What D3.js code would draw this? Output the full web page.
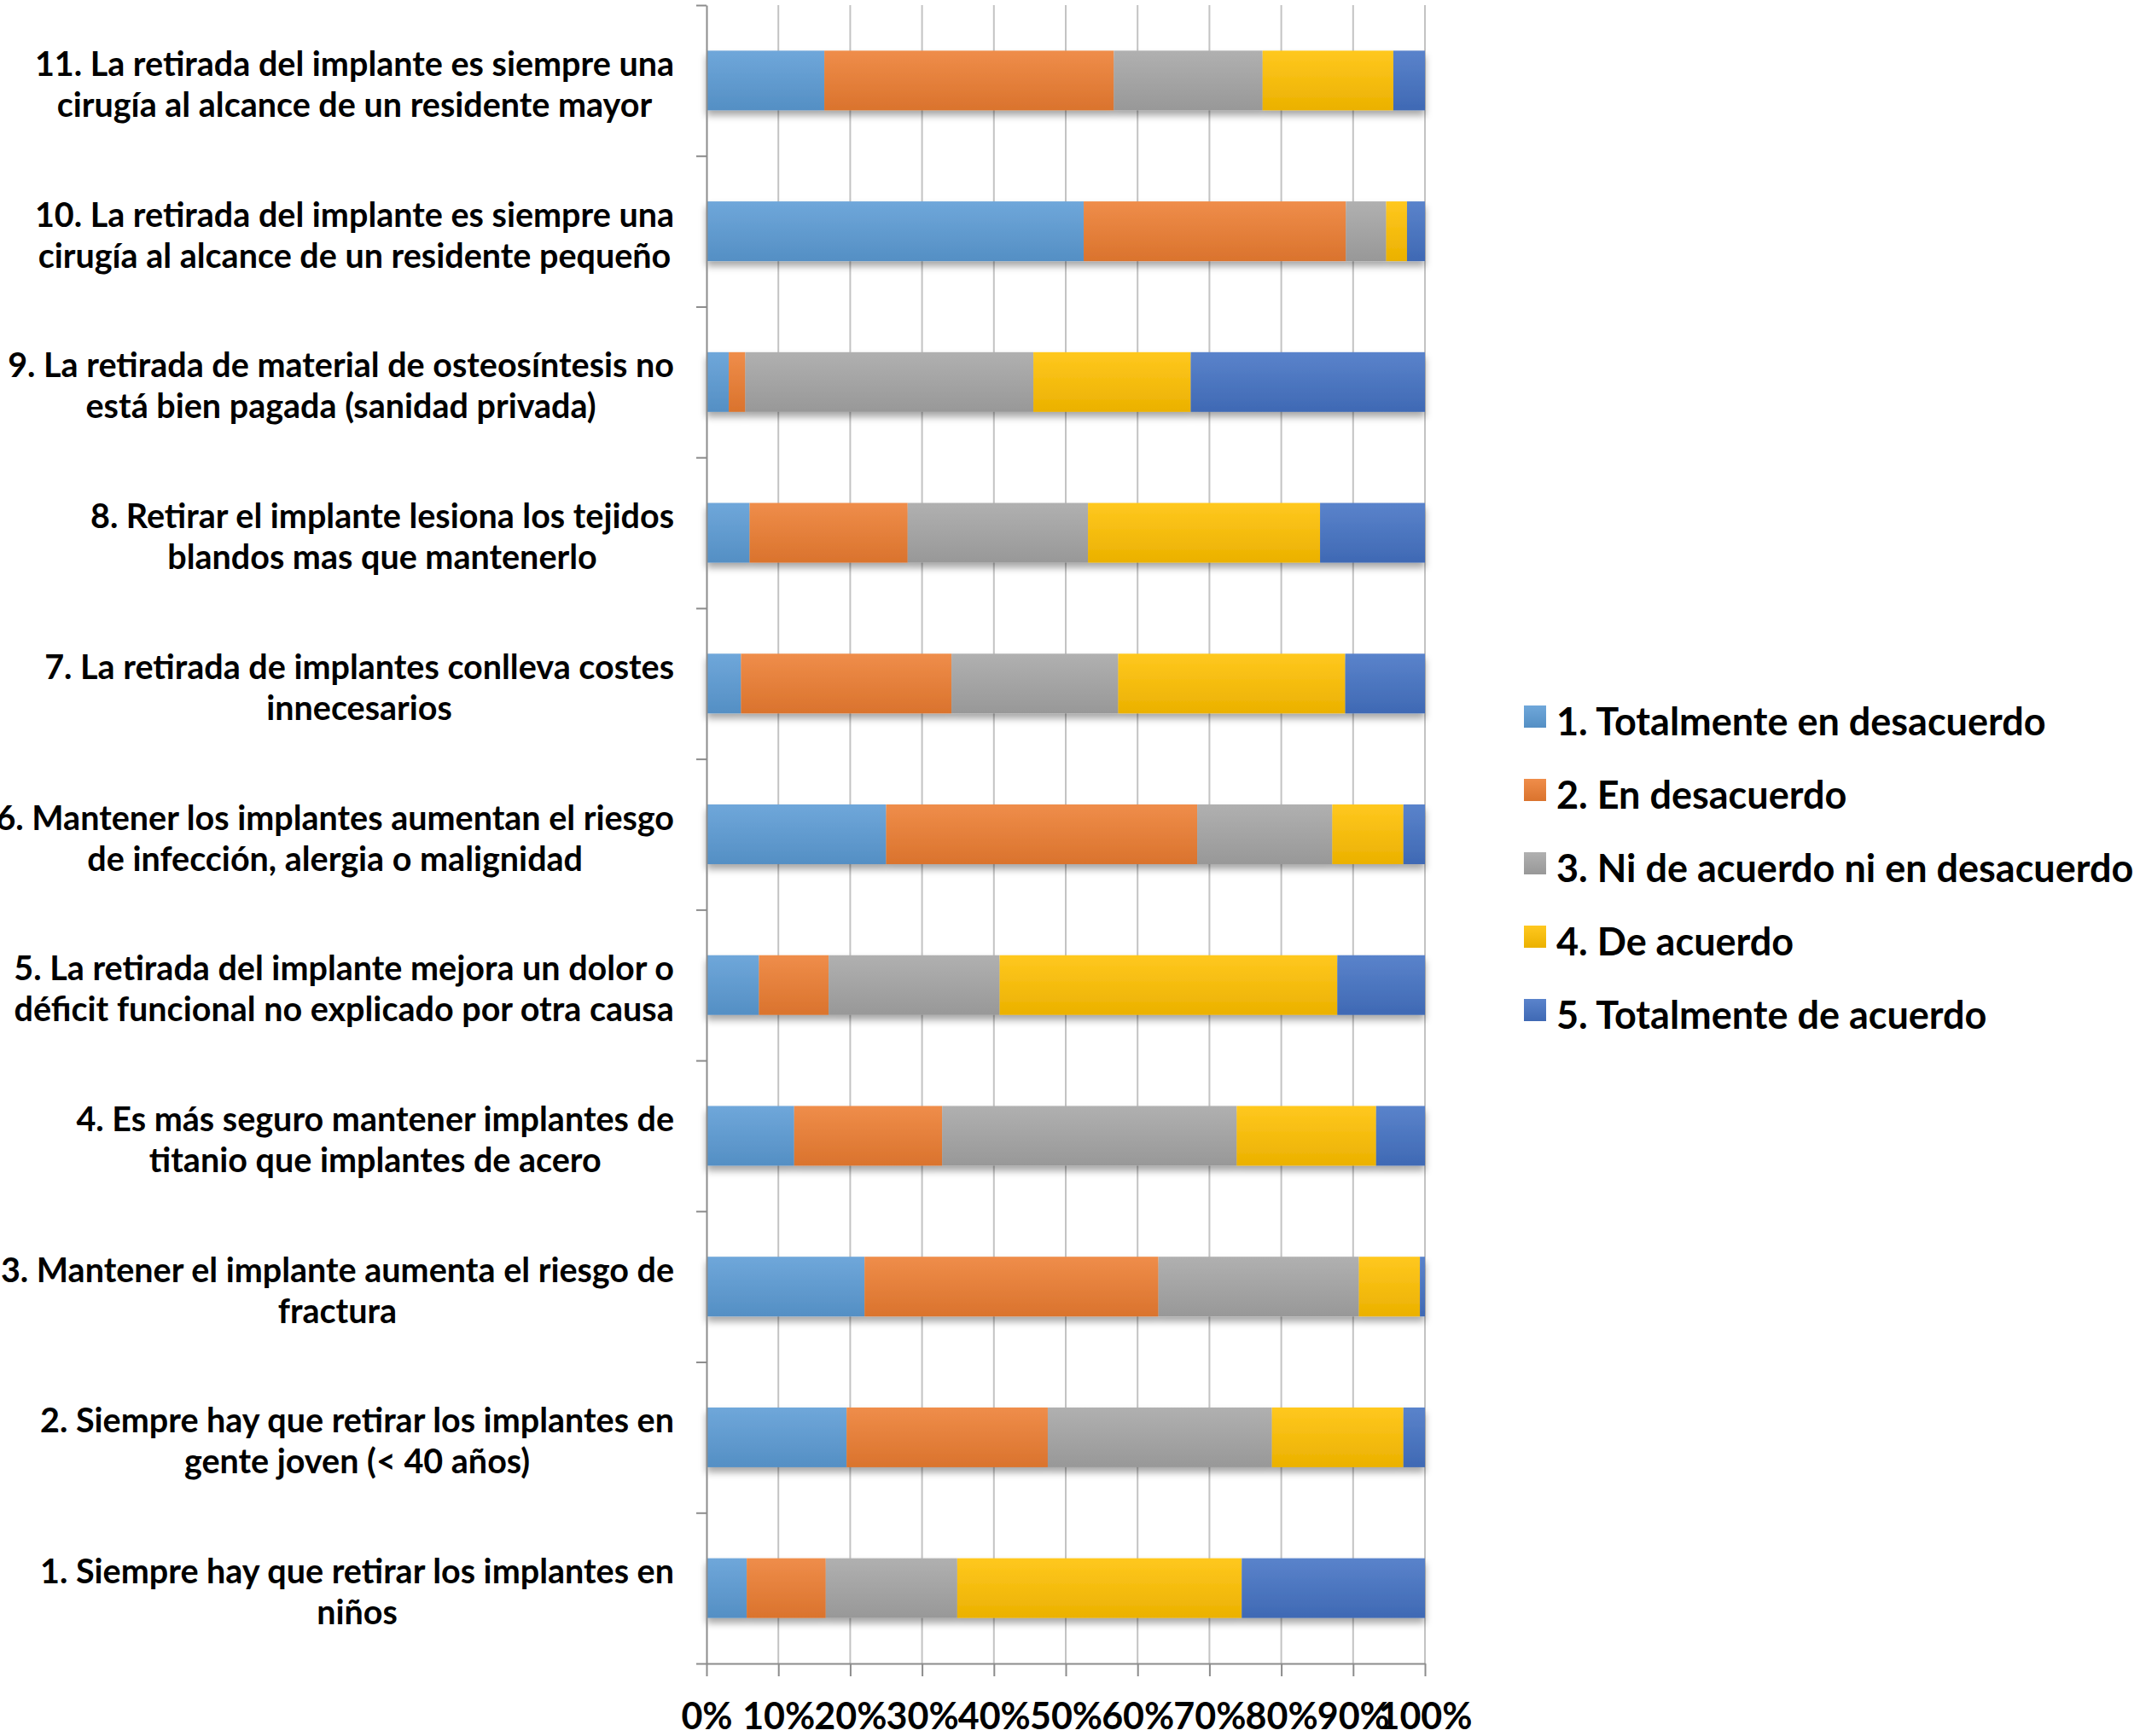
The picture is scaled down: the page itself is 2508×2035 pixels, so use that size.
<!DOCTYPE html>
<html>
<head>
<meta charset="utf-8">
<script src="https://cdn.jsdelivr.net/npm/d3@7"></script>
<style>
  body { margin: 0; background: #fff; }
  text { font-family: Lato, "Open Sans", sans-serif; font-weight: 700; fill: #000; }
</style>
</head>
<body>
<div id="chart"></div>
<script>
// questions, top to bottom as drawn
var questions = ['11', '10', '9', '8', '7', '6', '5', '4', '3', '2', '1'];
var questionLines = [
  ['11. La retirada del implante es siempre una', 'cirugía al alcance de un residente mayor'],
  ['10. La retirada del implante es siempre una', 'cirugía al alcance de un residente pequeño'],
  ['9. La retirada de material de osteosíntesis no', 'está bien pagada (sanidad privada)'],
  ['8. Retirar el implante lesiona los tejidos', 'blandos mas que mantenerlo'],
  ['7. La retirada de implantes conlleva costes', 'innecesarios'],
  ['6. Mantener los implantes aumentan el riesgo', 'de infección, alergia o malignidad'],
  ['5. La retirada del implante mejora un dolor o', 'déficit funcional no explicado por otra causa'],
  ['4. Es más seguro mantener implantes de', 'titanio que implantes de acero'],
  ['3. Mantener el implante aumenta el riesgo de', 'fractura'],
  ['2. Siempre hay que retirar los implantes en', 'gente joven (< 40 años)'],
  ['1. Siempre hay que retirar los implantes en', 'niños']
];

var seriesNames = ['1. Totalmente en desacuerdo', '2. En desacuerdo',
  '3. Ni de acuerdo ni en desacuerdo', '4. De acuerdo', '5. Totalmente de acuerdo'];

// percent per answer, same order as questions
var totalDesacuerdo = [16.4, 52.5, 3.1, 6.0, 4.8, 25.0, 7.3, 12.2, 22.0, 19.5, 5.6];
var enDesacuerdo    = [40.3, 36.5, 2.3, 22.0, 29.3, 43.3, 9.7, 20.6, 40.9, 28.0, 11.0];
var neutral         = [20.7, 5.6, 40.1, 25.1, 23.2, 18.8, 23.8, 41.0, 27.9, 31.2, 18.3];
var deAcuerdo       = [18.2, 2.9, 21.9, 32.3, 31.6, 9.9, 47.0, 19.4, 8.5, 18.3, 39.6];
var totalAcuerdo    = [4.4, 2.5, 32.6, 14.6, 11.1, 3.0, 12.2, 6.8, 0.7, 3.0, 25.5];

var xTicks = [0, 10, 20, 30, 40, 50, 60, 70, 80, 90, 100];
var colors = ['#5b9bd5', '#ed7d31', '#a5a5a5', '#ffc000', '#4472c4'];

var W = 2508, H = 2035;
var plotLeft = 828, plotRight = 1670, plotTop = 6, plotBottom = 1950;

var table = questions.map(function (q, i) {
  return { q: q, lines: questionLines[i],
    s0: totalDesacuerdo[i], s1: enDesacuerdo[i], s2: neutral[i], s3: deAcuerdo[i], s4: totalAcuerdo[i] };
});
var keys = ['s0', 's1', 's2', 's3', 's4'];
var stacked = d3.stack().keys(keys)(table);

var svg = d3.select('#chart').append('svg')
  .attr('width', W).attr('height', H);

var defs = svg.append('defs');
colors.forEach(function (c, i) {
  var g = defs.append('linearGradient').attr('id', 'grad' + i)
    .attr('x1', 0).attr('y1', 0).attr('x2', 0).attr('y2', 1);
  g.append('stop').attr('offset', '0%').attr('stop-color', d3.interpolateRgb(c, '#fff')(0.12));
  g.append('stop').attr('offset', '100%').attr('stop-color', d3.interpolateRgb(c, '#000')(0.08));
});
var shadow = defs.append('filter').attr('id', 'shadow')
  .attr('x', '-5%').attr('y', '-20%').attr('width', '110%').attr('height', '160%');
shadow.append('feDropShadow').attr('dx', 0).attr('dy', 6).attr('stdDeviation', 4)
  .attr('flood-color', '#000').attr('flood-opacity', 0.35);

var x = d3.scaleLinear().domain([0, 100]).range([plotLeft, plotRight]);
var y = d3.scaleBand().domain(questions).range([plotTop, plotBottom])
  .paddingInner(0.604).paddingOuter(0.302);
var yEdge = d3.scaleLinear().domain([0, questions.length]).range([plotTop, plotBottom]);

// gridlines
svg.append('g').selectAll('line').data(xTicks.slice(1)).join('line')
  .attr('x1', function (d) { return x(d); }).attr('x2', function (d) { return x(d); })
  .attr('y1', plotTop).attr('y2', plotBottom)
  .attr('stroke', '#c3c3c3').attr('stroke-width', 2);

// bars
svg.append('g').attr('filter', 'url(#shadow)')
  .selectAll('g').data(stacked).join('g')
  .attr('fill', function (d, i) { return 'url(#grad' + i + ')'; })
  .selectAll('rect').data(function (d) { return d; }).join('rect')
  .attr('x', function (d) { return x(d[0]); })
  .attr('width', function (d) { return x(d[1]) - x(d[0]); })
  .attr('y', function (d) { return y(d.data.q); })
  .attr('height', y.bandwidth());

// y axis with ticks between categories
var yAxis = svg.append('g').attr('transform', 'translate(' + plotLeft + ',0)')
  .call(d3.axisLeft(yEdge).tickValues(d3.range(questions.length + 1)).tickFormat('').tickSize(12).tickSizeOuter(0));
yAxis.selectAll('path, line').attr('stroke', '#8c8c8c').attr('stroke-width', 2);

// x axis
var xAxis = svg.append('g').attr('transform', 'translate(0,' + plotBottom + ')')
  .call(d3.axisBottom(x).tickValues(xTicks).tickSize(15).tickSizeOuter(0).tickPadding(31)
    .tickFormat(function (d) { return d + '%'; }));
xAxis.selectAll('path, line').attr('stroke', '#8c8c8c').attr('stroke-width', 2);
xAxis.selectAll('text').attr('font-size', 43).attr('font-family', 'Lato').attr('fill', '#000');

// category labels, centred block, right edge near the axis
var labelRight = 790;
var labels = svg.append('g').selectAll('g').data(table).join('g');
labels.each(function (d) {
  var g = d3.select(this);
  var cy = y(d.q) + y.bandwidth() / 2;
  var t = g.selectAll('text').data(d.lines).join('text')
    .attr('font-size', 39.5)
    .attr('text-anchor', 'middle')
    .attr('dominant-baseline', 'central')
    .attr('y', function (l, i) { return cy + (i === 0 ? -21 : 27); })
    .text(function (l) { return l; });
  var maxW = 0;
  t.each(function () { maxW = Math.max(maxW, this.getComputedTextLength()); });
  t.attr('x', labelRight - maxW / 2);
});

// legend
var legend = svg.append('g').selectAll('g').data(seriesNames).join('g')
  .attr('transform', function (d, i) { return 'translate(1786,' + (845 + i * 86) + ')'; });
legend.append('rect').attr('x', 0).attr('y', -18).attr('width', 26).attr('height', 26)
  .attr('fill', function (d, i) { return 'url(#grad' + i + ')'; });
legend.append('text').attr('x', 38).attr('y', 0)
  .attr('dominant-baseline', 'central').attr('font-size', 45)
  .text(function (d) { return d; });
</script>
</body>
</html>
